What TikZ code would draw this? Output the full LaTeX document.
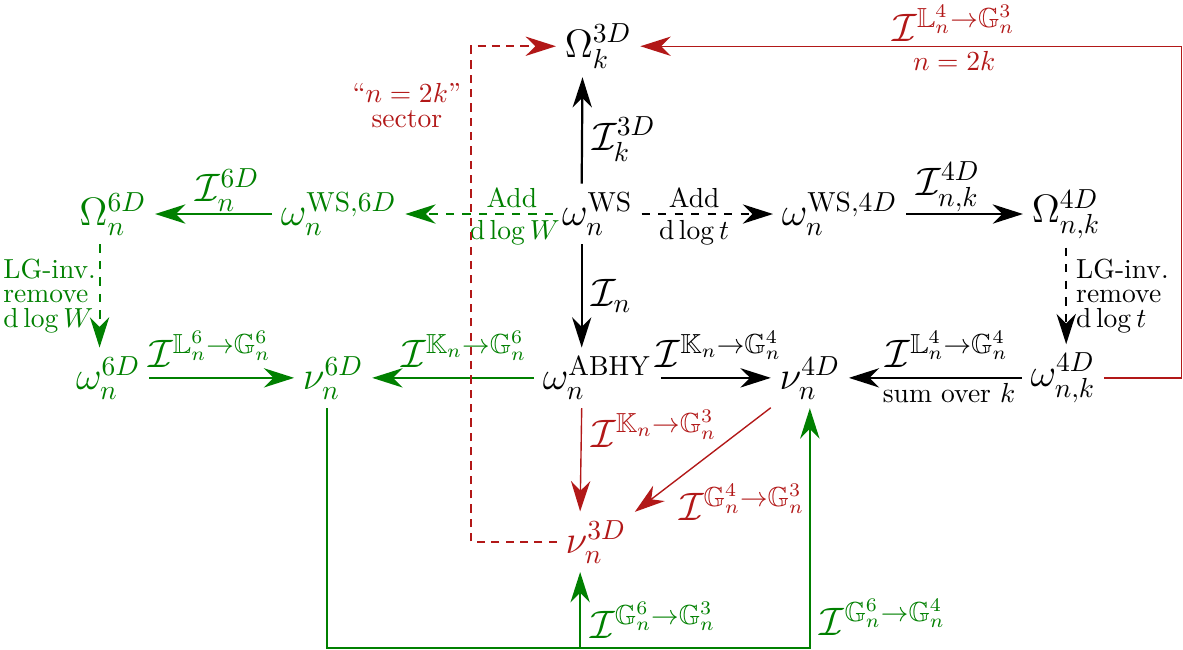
\documentclass[tikz,border=0pt]{standalone}
\usepackage{amssymb}
\usetikzlibrary{arrows.meta}
\definecolor{dred}{RGB}{178,24,24}
\definecolor{dgreen}{RGB}{0,128,0}

\tikzset{
  obj/.style={font=\Large,inner sep=3pt},
  lbl/.style={font=\Large},
  tip/.style={-{Stealth[length=11pt,width=7pt,inset=3.5pt]}},
  blk/.style={tip,black,line width=0.8pt},
  blkdash/.style={blk,dashed,line width=0.6pt},
  redln/.style={tip,dred,line width=0.5pt},
  reddash/.style={redln,line width=0.7pt,dash pattern=on 3pt off 2.2pt},
  grnln/.style={tip,dgreen,line width=0.7pt},
}

\begin{document}
\begin{tikzpicture}[x=1cm,y=1cm]
\useasboundingbox (0,0) rectangle (15.09,-8.29);
% objects
\node[obj] (O3) at (7.63,-0.59) {$\Omega^{3D}_k$};
\node[obj] (wWS) at (7.62,-2.73) {$\omega^{\mathrm{WS}}_n$};
\node[obj] (wWS4) at (10.71,-2.73) {$\omega^{\mathrm{WS},4D}_n$};
\node[obj] (O4) at (13.60,-2.73) {$\Omega^{4D}_{n,k}$};
\node[obj,text=dgreen] (wWS6) at (4.32,-2.73) {$\omega^{\mathrm{WS},6D}_n$};
\node[obj,text=dgreen] (O6) at (1.44,-2.73) {$\Omega^{6D}_n$};
\node[obj,text=dgreen] (w6) at (1.38,-4.82) {$\omega^{6D}_n$};
\node[obj,text=dgreen] (nu6) at (4.25,-4.82) {$\nu^{6D}_n$};
\node[obj] (ABHY) at (7.62,-4.82) {$\omega^{\mathrm{ABHY}}_n$};
\node[obj] (nu4) at (10.33,-4.82) {$\nu^{4D}_n$};
\node[obj] (w4) at (13.56,-4.82) {$\omega^{4D}_{n,k}$};
\node[obj,text=dred] (nu3) at (7.60,-6.91) {$\nu^{3D}_n$};
\coordinate (rxl) at (6.01,0);
\coordinate (rxr) at (15.07,0);
\coordinate (gb) at (0,-8.27);

% black maps
\draw[blk] ([xshift=-0.2cm]wWS.north) -- node[pos=0.42,right,lbl]{$\mathcal{I}^{3D}_k$} ([xshift=-0.2cm]O3.south);
\draw[blk] ([xshift=-0.2cm]wWS.south) -- node[right,lbl]{$\mathcal{I}_n$} ([xshift=-0.2cm]ABHY.north);
\draw[blkdash] (wWS) -- node[pos=0.4,above,inner sep=2pt]{Add} node[pos=0.4,below,inner sep=2pt]{$\mathrm{d}\log t$} (wWS4);
\draw[blk] (wWS4) -- node[pos=0.36,above,lbl,inner sep=0.5pt]{$\mathcal{I}^{4D}_{n,k}$} (O4);
\draw[blkdash] (O4.south) -- node[right,align=left]{LG-inv.\\[-3pt]remove\\[-3pt]$\mathrm{d}\log t$} (O4.south |- w4.north);
\draw[blk] (w4) -- node[pos=0.43,above,lbl]{$\mathcal{I}^{\mathbb{L}^4_n\to\mathbb{G}^4_n}$} node[pos=0.42,below,inner sep=1.5pt]{sum over $k$} (nu4);
\draw[blk] (ABHY) -- node[pos=0.53,above,lbl]{$\mathcal{I}^{\mathbb{K}_n\to\mathbb{G}^4_n}$} (nu4);

% green maps
\draw[grnln,dashed] (wWS) -- node[pos=0.28,above,inner sep=2pt]{Add} node[pos=0.26,below,inner sep=2pt]{$\mathrm{d}\log W$} (wWS6);
\draw[grnln] (wWS6) -- node[pos=0.38,above,lbl,inner sep=0.5pt]{$\mathcal{I}^{6D}_n$} (O6);
\draw[grnln,dashed] ([xshift=-0.17cm]O6.south) -- node[left,align=left,inner sep=1pt]{LG-inv.\\[-3pt]remove\\[-3pt]$\mathrm{d}\log W$} ([xshift=-0.17cm]O6.south |- w6.north);
\draw[grnln] (w6) -- node[pos=0.42,above,lbl]{$\mathcal{I}^{\mathbb{L}^6_n\to\mathbb{G}^6_n}$} (nu6);
\draw[grnln] (ABHY) -- node[pos=0.43,above,lbl]{$\mathcal{I}^{\mathbb{K}_n\to\mathbb{G}^6_n}$} (nu6);
\draw[grnln] ([xshift=-0.08cm]nu6.south) -- ([xshift=-0.08cm]nu6.south |- gb) -| node[pos=0.565,right,lbl]{$\mathcal{I}^{\mathbb{G}^6_n\to\mathbb{G}^4_n}$} (nu4.south);
\draw[grnln] ([xshift=-0.2cm]nu3.south |- gb) -- node[pos=0.37,right,lbl]{$\mathcal{I}^{\mathbb{G}^6_n\to\mathbb{G}^3_n}$} ([xshift=-0.2cm]nu3.south);

% red maps
\draw[redln] ([xshift=-0.2cm]ABHY.south) -- node[pos=0.2,right,lbl]{$\mathcal{I}^{\mathbb{K}_n\to\mathbb{G}^3_n}$} ([xshift=-0.2cm]nu3.north);
\draw[redln] (nu4) -- node[pos=0.7,anchor=north west,inner sep=1pt,lbl]{$\mathcal{I}^{\mathbb{G}^4_n\to\mathbb{G}^3_n}$} (nu3);
\draw[reddash] (nu3.west) -- (nu3.west -| rxl) |- node[pos=0.44,left,align=center]{``$n=2k$''\\[-3pt]sector} (O3.west);
\draw[redln] (w4.east) -- (w4.east -| rxr) |- node[pos=0.71,above,lbl,inner sep=1.5pt]{$\mathcal{I}^{\mathbb{L}^4_n\to\mathbb{G}^3_n}$} node[pos=0.71,below,inner sep=1.5pt]{$n=2k$} (O3.east);
\end{tikzpicture}
\end{document}
